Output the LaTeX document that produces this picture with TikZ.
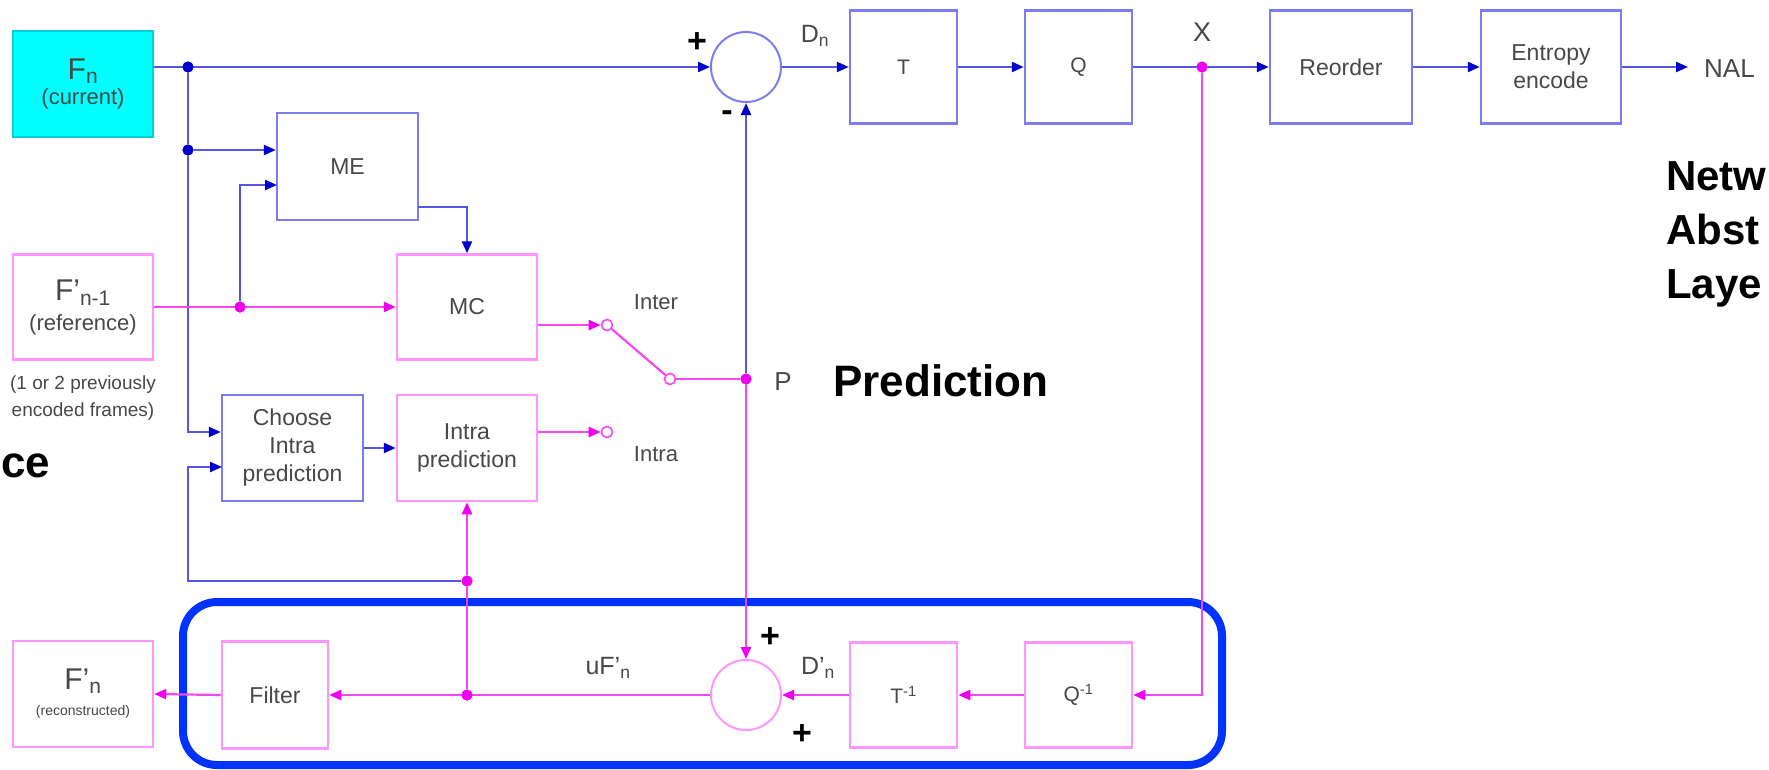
\documentclass[tikz,border=0pt]{standalone}
\usepackage{fontspec}
\setmainfont{Liberation Sans}
\usetikzlibrary{arrows.meta}
\definecolor{lblue}{RGB}{85,85,235}
\definecolor{bblue}{RGB}{125,125,240}
\definecolor{dblue}{RGB}{0,0,205}
\definecolor{lmag}{RGB}{245,70,245}
\definecolor{bmag}{RGB}{255,150,255}
\definecolor{dmag}{RGB}{240,0,240}
\definecolor{cyanfill}{RGB}{0,255,255}
\definecolor{cyanedge}{RGB}{0,205,215}
\definecolor{frameblue}{RGB}{0,51,255}
\definecolor{txt}{RGB}{72,72,72}
\newcommand\bxfont{\fontsize{23}{28}\selectfont}
\begin{document}
\begin{tikzpicture}[x=1pt,y=-1pt,
  bline/.style={draw=lblue,line width=2.2pt},
  barrow/.style={bline,-{Triangle[length=12pt,width=10pt,color=dblue]}},
  mline/.style={draw=lmag,line width=2.2pt},
  marrow/.style={mline,-{Triangle[length=12pt,width=10pt,color=dmag]}},
  bbox/.style={draw=bblue,line width=2.5pt,fill=white,text=txt,font=\bxfont,align=center,inner sep=0pt},
  mbox/.style={draw=bmag,line width=2.5pt,fill=white,text=txt,font=\bxfont,align=center,inner sep=0pt},
  bjoin/.style={circle,fill=dblue,inner sep=0pt,minimum size=11pt},
  mjoin/.style={circle,fill=dmag,inner sep=0pt,minimum size=11pt},
  contact/.style={circle,draw=lmag,fill=white,line width=1.6pt,inner sep=0pt,minimum size=11pt},
  lbl/.style={text=txt,font=\fontsize{22}{26}\selectfont,inner sep=0pt},
  bigbold/.style={text=black,font=\fontsize{44}{53}\selectfont\bfseries,inner sep=0pt},
  sidebold/.style={text=black,font=\fontsize{42}{53}\selectfont\bfseries,inner sep=0pt},
  sign/.style={text=black,font=\fontsize{34}{34}\selectfont\bfseries,inner sep=0pt}]
\useasboundingbox (0,0) rectangle (1769,769);

% reconstruction frame
\draw[frameblue,line width=8pt,rounded corners=34pt] (183,602) rectangle (1222,765);

% boxes
\node[draw=cyanedge,fill=cyanfill,line width=2pt,text=txt,align=center,inner sep=0pt,minimum width=140pt,minimum height=106pt] (fn) at (83,84)
  {{\fontsize{30}{30}\selectfont F\textsubscript{n}}\\[4pt]{\fontsize{22}{24}\selectfont (current)}};
\node[mbox,minimum width=140pt,minimum height=105pt] (fref) at (83,307)
  {{\fontsize{30}{30}\selectfont F'\textsubscript{n-1}}\\[2pt]{\fontsize{22}{24}\selectfont (reference)}};
\node[mbox,minimum width=140pt,minimum height=106pt] (frec) at (83,694)
  {{\fontsize{30}{30}\selectfont F'\textsubscript{n}}\\[-2pt]{\fontsize{14}{16}\selectfont (reconstructed)}};
\node[bbox,minimum width=141pt,minimum height=107pt] (me) at (347.5,166.5) {ME};
\node[mbox,minimum width=140pt,minimum height=105pt] (mc) at (467,307) {MC};
\node[bbox,minimum width=141pt,minimum height=106pt] (choose) at (292.5,448) {Choose\\Intra\\prediction};
\node[mbox,minimum width=140pt,minimum height=106pt] (intra) at (467,448) {Intra\\prediction};
\node[mbox,minimum width=106pt,minimum height=107pt] (filter) at (275,695) {Filter};
\node[bbox,minimum width=107pt,minimum height=113pt,font=\fontsize{21}{24}\selectfont] (T) at (903.5,67) {T};
\node[bbox,minimum width=107pt,minimum height=113pt,font=\fontsize{21}{24}\selectfont] (Q) at (1078.5,67) {Q};
\node[bbox,minimum width=142pt,minimum height=113pt] (reorder) at (1341,67) {Reorder};
\node[bbox,minimum width=140pt,minimum height=113pt] (entropy) at (1551,67) {Entropy\\encode};
\node[mbox,minimum width=107pt,minimum height=105pt,font=\fontsize{21}{24}\selectfont] (Tinv) at (903.5,695) {T\textsuperscript{-1}};
\node[mbox,minimum width=107pt,minimum height=105pt,font=\fontsize{21}{24}\selectfont] (Qinv) at (1078.5,695) {Q\textsuperscript{-1}};

% summing junctions
\node[circle,draw=bblue,line width=2pt,fill=white,minimum size=70pt,inner sep=0pt] (sum1) at (746,67) {};
\node[circle,draw=bmag,line width=2pt,fill=white,minimum size=70pt,inner sep=0pt] (sum2) at (746,695) {};

% junction dots and coordinates
\node[bjoin] (d1) at (188,67) {};
\node[bjoin] (d2) at (188,150) {};
\node[mjoin] (d3) at (240,307) {};
\node[mjoin] (pdot) at (746,379) {};
\node[mjoin] (xdot) at (1202,67) {};
\node[mjoin] (d4) at (467,695) {};
\node[mjoin] (d5) at (467,581) {};
\coordinate (c1) at (188,432);
\coordinate (c2) at (277,185);
\coordinate (c3) at (418,207);
\coordinate (c4) at (188,581);
\coordinate (c5) at (222,467);
\coordinate (nalend) at (1688,67);

% switch contacts
\node[contact] (cinter) at (607,325) {};
\node[contact] (cintra) at (607,432) {};
\node[contact] (cp) at (670,379) {};

% forward path
\draw[barrow] (fn.east |- d1) -- (sum1.west);
\draw[barrow] (sum1.east) -- (T.west);
\draw[barrow] (T.east) -- (Q.west);
\draw[barrow] (Q.east) -- (reorder.west);
\draw[barrow] (reorder.east) -- (entropy.west);
\draw[barrow] (entropy.east) -- (nalend);

% motion estimation / compensation
\draw[bline] (d1) -- (d2);
\draw[barrow] (d2) -- (me.west |- d2);
\draw[barrow] (d2) -- (c1) -- (choose.west |- c1);
\draw[marrow] (fref.east) -- (mc.west);
\draw[barrow] (d3) |- (c2);
\draw[barrow] (c3) -| (mc.north);
\draw[barrow] (choose.east) -- (intra.west);

% switch
\draw[marrow] (mc.east |- cinter) -- (cinter.west);
\draw[marrow] (intra.east |- cintra) -- (cintra.west);
\draw[mline] (cinter) -- (cp);
\draw[mline] (cp) -- (pdot);
\draw[barrow] (pdot) -- (sum1.south);
\draw[marrow] (pdot) -- (sum2.north);

% reconstruction path
\draw[marrow] (xdot) |- (Qinv.east);
\draw[marrow] (Qinv.west) -- (Tinv.east);
\draw[marrow] (Tinv.west) -- (sum2.east);
\draw[marrow] (sum2.west) -- (filter.east);
\draw[marrow] (filter.west) -- (frec.east);
\draw[mline] (d4) -- (d5);
\draw[marrow] (d5) -- (intra.south);
\draw[barrow] (d5) -- (c4) |- (c5);

% redraw dots on top
\node[bjoin] at (d1) {};
\node[bjoin] at (d2) {};
\node[mjoin] at (d3) {};
\node[mjoin] at (pdot) {};
\node[mjoin] at (xdot) {};
\node[mjoin] at (d4) {};
\node[mjoin] at (d5) {};

% labels
\node[lbl,font=\fontsize{25}{28}\selectfont] (dnl) at (815,36) {D\textsubscript{n}};
\node[lbl,font=\fontsize{27}{28}\selectfont] (xl) at (1202,32) {X};
\node[lbl,font=\fontsize{26}{28}\selectfont,anchor=west] (nal) at (1704,69) {NAL};
\node[lbl] (interl) at (656,302) {Inter};
\node[lbl] (intral) at (656,454) {Intra};
\node[lbl,font=\fontsize{26}{28}\selectfont] (pl) at (783,382) {P};
\node[lbl,font=\fontsize{25}{28}\selectfont] (ufl) at (608,668) {uF'\textsubscript{n}};
\node[lbl,font=\fontsize{25}{28}\selectfont] (dpl) at (818,668) {D'\textsubscript{n}};
\node[lbl,font=\fontsize{19}{27}\selectfont,align=center] (prevl) at (83,398) {(1 or 2 previously\\encoded frames)};

\node[sign] (s1) at (697,43) {+};
\node[sign] (s2) at (727,116) {-};
\node[sign] (s3) at (770,638) {+};
\node[sign] (s4) at (802,735) {+};

\node[bigbold,anchor=base west] (predl) at (833,396) {Prediction};
\node[bigbold,anchor=base west] (srcl) at (1,477) {ce};
\node[sidebold,anchor=base west] (nal1) at (1666,190) {Netw};
\node[sidebold,anchor=base west] (nal2) at (1666,244) {Abst};
\node[sidebold,anchor=base west] (nal3) at (1666,298) {Laye};
\end{tikzpicture}
\end{document}
